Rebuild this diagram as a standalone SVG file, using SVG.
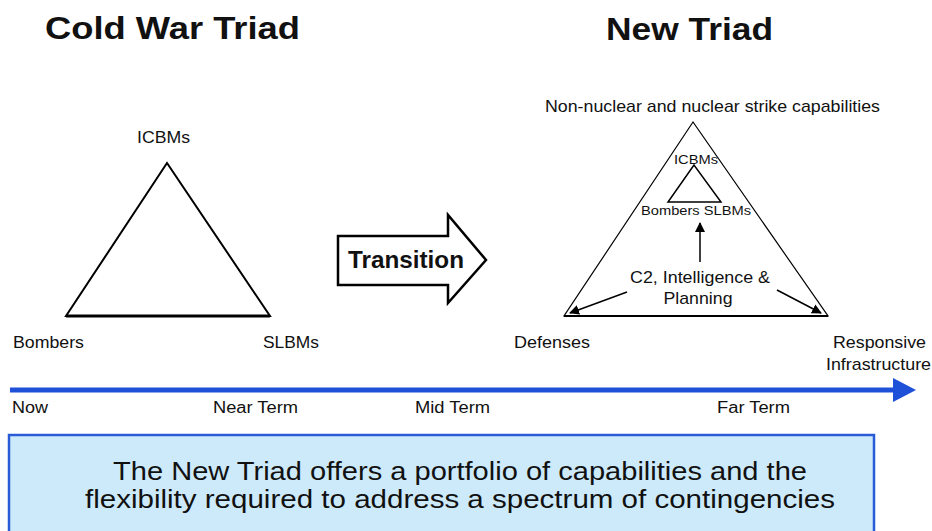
<svg xmlns="http://www.w3.org/2000/svg" width="932" height="531" viewBox="0 0 932 531">
<defs>
<style>
text{font-family:"Liberation Sans",Arial,sans-serif;fill:#111}
.title{font-size:32px;font-weight:bold}
.lbl{font-size:17px}
.sm{font-size:12px}
.tl{font-size:16px}
.box{font-size:26px}
</style>
<marker id="ah" viewBox="0 0 10 10" refX="9" refY="5" markerWidth="10" markerHeight="10" markerUnits="userSpaceOnUse" orient="auto">
<path d="M0,0 L10,5 L0,10 z" fill="#000"/>
</marker>
</defs>
<rect width="932" height="531" fill="#fff"/>

<g id="titles">
<text class="title" x="45" y="39" textLength="255" lengthAdjust="spacingAndGlyphs">Cold War Triad</text>
<text class="title" x="606" y="40" textLength="167" lengthAdjust="spacingAndGlyphs">New Triad</text>
</g>

<g id="cold-war-triad">
<polygon points="167,163 66,316 270,316" fill="none" stroke="#000" stroke-width="2"/>
<line x1="66" y1="316" x2="270" y2="316" stroke="#000" stroke-width="3"/>
<text class="lbl" x="137" y="143" textLength="53" lengthAdjust="spacingAndGlyphs">ICBMs</text>
<text class="lbl" x="13" y="348" textLength="71" lengthAdjust="spacingAndGlyphs">Bombers</text>
<text class="lbl" x="263" y="348" textLength="56" lengthAdjust="spacingAndGlyphs">SLBMs</text>
</g>

<g id="transition">
<polygon points="338,236 448,236 448,215 486,260 448,303 448,285 338,285" fill="#fff" stroke="#000" stroke-width="2.5" stroke-linejoin="miter"/>
<text x="348" y="268" style="font-size:24px;font-weight:bold" textLength="116" lengthAdjust="spacingAndGlyphs">Transition</text>
</g>

<g id="new-triad">
<polygon points="693,122 564,316 828,316" fill="none" stroke="#000" stroke-width="1.2"/>
<line x1="564" y1="316" x2="828" y2="316" stroke="#000" stroke-width="2"/>
<text class="lbl" x="545" y="112" textLength="335" lengthAdjust="spacingAndGlyphs">Non-nuclear and nuclear strike capabilities</text>
<text class="lbl" x="514" y="348" textLength="76" lengthAdjust="spacingAndGlyphs">Defenses</text>
<text class="lbl" x="833" y="348" textLength="93" lengthAdjust="spacingAndGlyphs">Responsive</text>
<text class="lbl" x="826" y="370" textLength="105" lengthAdjust="spacingAndGlyphs">Infrastructure</text>
</g>

<g id="inner-triad">
<polygon points="694,165 668,202 721,202" fill="none" stroke="#000" stroke-width="1.5"/>
<text class="sm" x="674" y="164" textLength="44" lengthAdjust="spacingAndGlyphs">ICBMs</text>
<text class="sm" x="641" y="215" textLength="110" lengthAdjust="spacingAndGlyphs">Bombers SLBMs</text>
</g>

<g id="c2">
<text class="lbl" x="700" y="283" text-anchor="middle" textLength="140" lengthAdjust="spacingAndGlyphs">C2, Intelligence &amp;</text>
<text class="lbl" x="698" y="304" text-anchor="middle" textLength="69" lengthAdjust="spacingAndGlyphs">Planning</text>
</g>

<g id="connectors" stroke="#000" stroke-width="1.5" fill="none">
<line x1="700" y1="262" x2="700" y2="223" marker-end="url(#ah)"/>
<line x1="627" y1="292" x2="570" y2="313" marker-end="url(#ah)"/>
<line x1="777" y1="290" x2="821" y2="313" marker-end="url(#ah)"/>
</g>

<g id="timeline">
<line x1="10" y1="390" x2="896" y2="390" stroke="#1e50d8" stroke-width="5"/>
<polygon points="893,378 916,390 893,402" fill="#1e50d8"/>
<text class="tl" x="12" y="413" textLength="36" lengthAdjust="spacingAndGlyphs">Now</text>
<text class="tl" x="213" y="413" textLength="85" lengthAdjust="spacingAndGlyphs">Near Term</text>
<text class="tl" x="415" y="413" textLength="75" lengthAdjust="spacingAndGlyphs">Mid Term</text>
<text class="tl" x="717" y="413" textLength="73" lengthAdjust="spacingAndGlyphs">Far Term</text>
</g>

<g id="summary">
<rect x="9" y="435" width="865" height="105" fill="#cdeafb" stroke="#2a5bd7" stroke-width="2.5"/>
<text class="box" x="113" y="480" textLength="694" lengthAdjust="spacingAndGlyphs">The New Triad offers a portfolio of capabilities and the</text>
<text class="box" x="85" y="508" textLength="750" lengthAdjust="spacingAndGlyphs">flexibility required to address a spectrum of contingencies</text>
</g>
</svg>
